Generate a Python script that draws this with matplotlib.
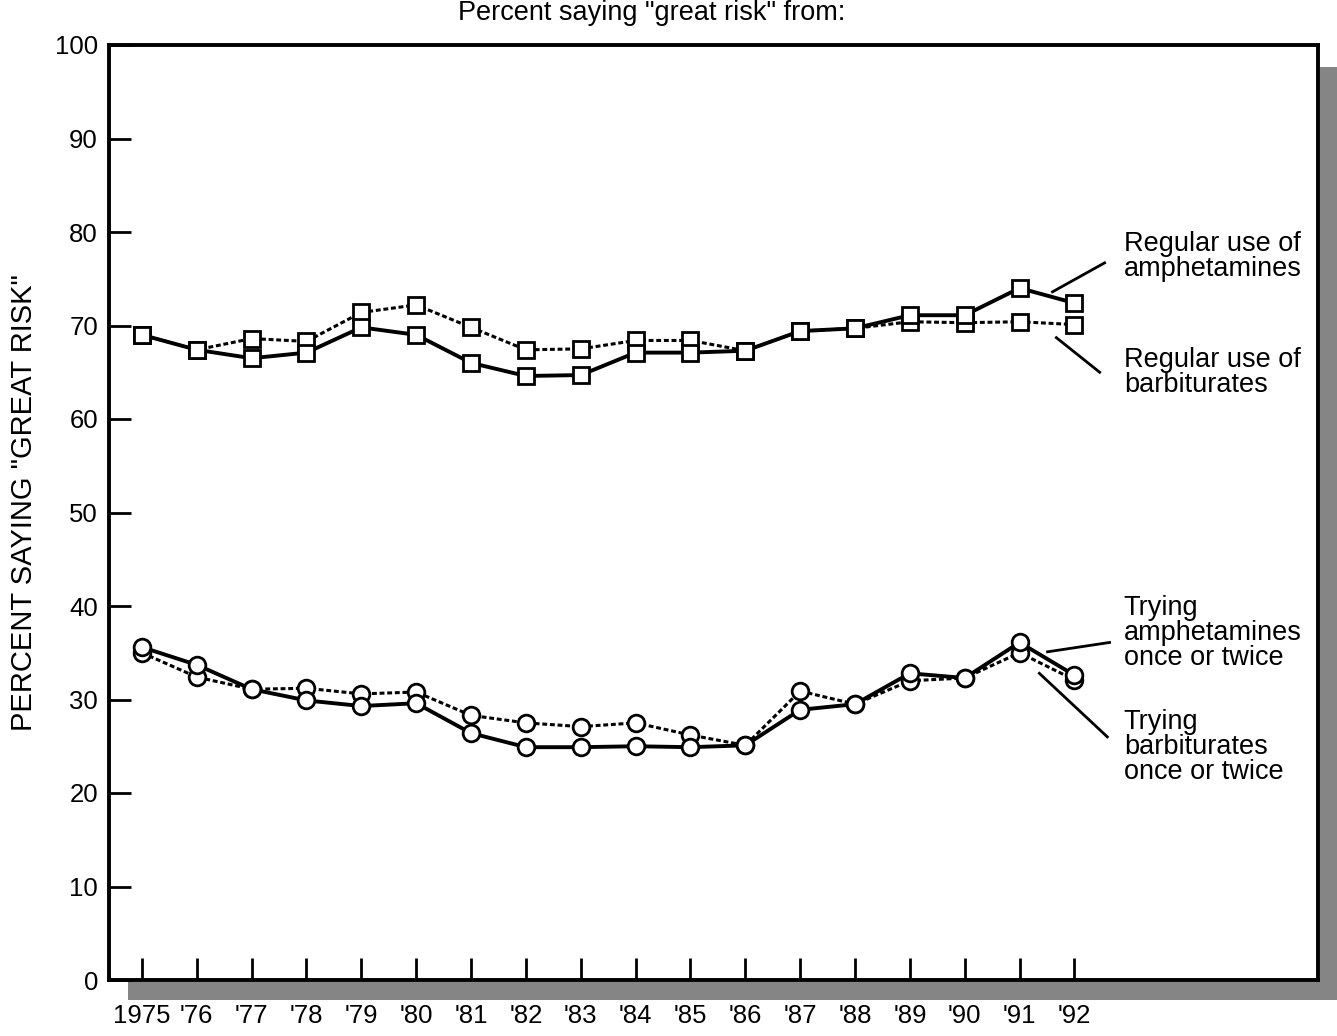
import matplotlib
matplotlib.use('Agg')
import matplotlib.pyplot as plt
from matplotlib.patches import Rectangle

plt.rcParams['font.family'] = ['Liberation Sans', 'DejaVu Sans']

years = list(range(1975, 1993))
year_labels = ['1975', "'76", "'77", "'78", "'79", "'80", "'81", "'82", "'83",
               "'84", "'85", "'86", "'87", "'88", "'89", "'90", "'91", "'92"]

# percent saying "great risk"
reg_amph = [69.0, 67.4, 66.5, 67.1, 69.8, 69.0, 66.0, 64.6, 64.7, 67.1, 67.1, 67.3,
            69.4, 69.7, 71.1, 71.1, 74.0, 72.4]
reg_barb = [69.0, 67.4, 68.6, 68.3, 71.4, 72.2, 69.8, 67.4, 67.5, 68.4, 68.4, 67.3,
            69.4, 69.7, 70.4, 70.3, 70.4, 70.1]
try_amph = [35.6, 33.7, 31.1, 29.9, 29.3, 29.6, 26.4, 24.9, 24.9, 25.0, 24.9, 25.1,
            28.9, 29.5, 32.8, 32.3, 36.1, 32.6]
try_barb = [35.0, 32.4, 31.1, 31.2, 30.6, 30.8, 28.3, 27.5, 27.1, 27.5, 26.2, 25.1,
            30.9, 29.5, 32.0, 32.3, 35.0, 32.1]

labels = ['Regular use of\namphetamines', 'Regular use of\nbarbiturates',
          'Trying\namphetamines\nonce or twice', 'Trying\nbarbiturates\nonce or twice']
label_y = [77.4, 65.0, 37.1, 24.9]
# leader lines: (x0, y0, x1, y1)
leaders = [(1991.6, 73.6, 1992.55, 76.7),
           (1991.67, 68.7, 1992.46, 65.0),
           (1991.51, 35.1, 1992.64, 36.1),
           (1991.36, 32.8, 1992.6, 26.0)]

fig = plt.figure(figsize=(13.37, 10.36), dpi=100)
ax = fig.add_axes([109 / 1337, 1 - 980 / 1036, (1318 - 109) / 1337, (980 - 45) / 1036])

# drop shadow
W, H = 1337, 1036
shade = '#858585'
fig.patches.append(Rectangle((1320 / W, 1 - 1000 / H), 17 / W, (1000 - 67) / H,
                             transform=fig.transFigure, facecolor=shade, edgecolor='none', zorder=0))
fig.patches.append(Rectangle((128 / W, 1 - 1000 / H), (1337 - 128) / W, 18 / H,
                             transform=fig.transFigure, facecolor=shade, edgecolor='none', zorder=0))

dash = (0, (1.6, 0.9))
ax.plot(years, reg_barb, color='black', lw=2.2, ls=dash, marker='s', ms=11,
        mfc='white', mec='black', mew=2, zorder=3)
ax.plot(years, reg_amph, color='black', lw=2.8, marker='s', ms=11,
        mfc='white', mec='black', mew=2, zorder=4)
ax.plot(years, try_barb, color='black', lw=2.2, ls=dash, marker='o', ms=12,
        mfc='white', mec='black', mew=2, zorder=3)
ax.plot(years, try_amph, color='black', lw=2.8, marker='o', ms=12,
        mfc='white', mec='black', mew=2, zorder=4)

for txt, ty in zip(labels, label_y):
    ax.text(1992.9, ty, txt, fontsize=19.5, va='center', ha='left', linespacing=0.95)
for x0, y0, x1, y1 in leaders:
    ax.plot([x0, x1], [y0, y1], color='black', lw=2, clip_on=False)

ax.set_xlim(1974.4, 1996.44)
ax.set_ylim(0, 100)
ax.set_xticks(years)
ax.set_xticklabels(year_labels)
ax.set_yticks(range(0, 101, 10))
ax.tick_params(axis='both', direction='in', length=16, width=2, labelsize=18.5)
ax.tick_params(axis='x', pad=17, top=False)
ax.tick_params(axis='y', pad=8, left=True, right=False)
for sp in ax.spines.values():
    sp.set_linewidth(2.8)
ax.set_facecolor('white')
ax.set_zorder(2)

fig.text(652 / W, 1 - 13 / H, 'Percent saying "great risk" from:', fontsize=19.5,
         ha='center', va='center')
fig.text(24 / W, 1 - 503 / H, 'PERCENT SAYING "GREAT RISK"', fontsize=21,
         rotation=90, ha='center', va='center')

fig.savefig('out.png', dpi=100, facecolor='white')
